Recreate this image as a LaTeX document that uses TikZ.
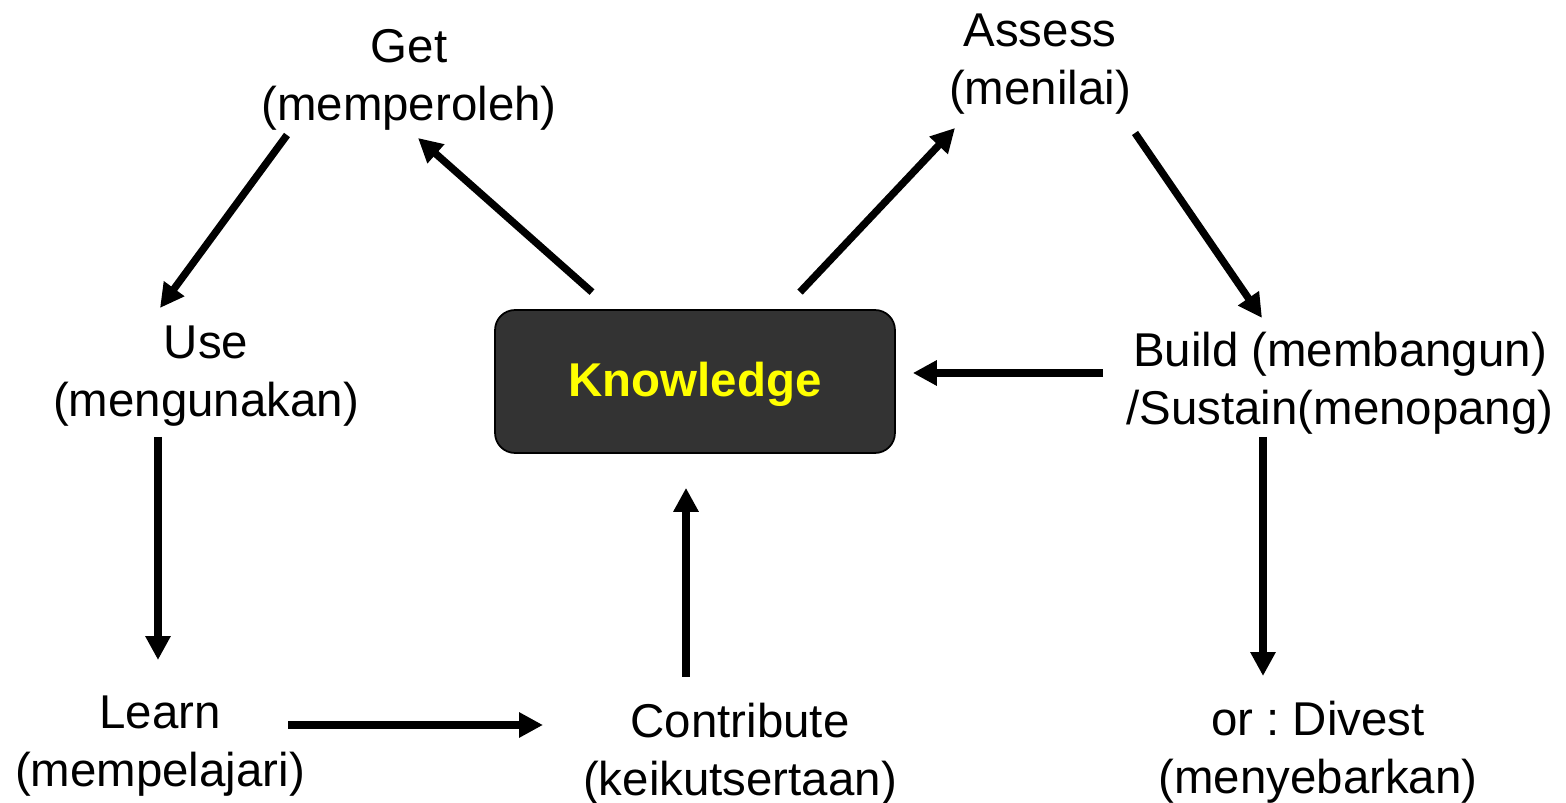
\documentclass[tikz,border=0pt]{standalone}
\usepackage{fontspec}
\setmainfont{Liberation Sans}
\frenchspacing
\usetikzlibrary{arrows.meta}
\definecolor{boxgray}{HTML}{333333}
\definecolor{kyellow}{HTML}{FFFF00}

\begin{document}
\begin{tikzpicture}[x=0.02cm, y=-0.02cm,
  every node/.style={align=center, font=\fontsize{27}{33}\selectfont},
  arr/.style={line width=4.2pt, -{Triangle[length=0.48cm, width=0.48cm]}}]
\useasboundingbox (0,0) rectangle (1566,803);

\node (k)[draw=black, line width=1pt, fill=boxgray, rounded corners=0.4cm,
  minimum width=8cm, minimum height=2.86cm, text depth=0.1cm,
  font=\fontsize{27}{33}\selectfont\bfseries, text=kyellow] at (695,381.5) {Knowledge};
\node (get) at (409,80) {Get\\(memperoleh)};
\node (assess) at (1040,64) {Assess\\(menilai)};
\node (use) at (206,376) {Use\\(mengunakan)};
\node (build) at (1340,383) {Build (membangun)\\/Sustain(menopang)};
\node (learn) at (160,746) {Learn\\(mempelajari)};
\node (contr) at (740,754) {Contribute\\(keikutsertaan)};
\node (divest) at (1318,752) {or : Divest\\(menyebarkan)};

\draw[arr] ([shift={(-103,-17)}]k.north) -- ([shift={(9,58)}]get.center);
\draw[arr] ([shift={(105,-17)}]k.north) -- ([shift={(-85,64)}]assess.center);
\draw[arr] ([shift={(-122,55)}]get.center) -- ([shift={(-46,-68)}]use.center);
\draw[arr] ([shift={(95,69)}]assess.center) -- ([shift={(-78,-65)}]build.center);
\draw[arr] ([shift={(-237,-10)}]build.center) -- ([shift={(17,-8.5)}]k.east);
\draw[arr] ([shift={(-48,61)}]use.center) -- ([shift={(-2,-86)}]learn.center);
\draw[arr] ([shift={(128,-21)}]learn.center) -- ([shift={(-197,-29)}]contr.center);
\draw[arr] ([shift={(-54,-77)}]contr.center) -- ([shift={(-9,34)}]k.south);
\draw[arr] ([shift={(-77,54)}]build.center) -- ([shift={(-55,-76)}]divest.center);
\end{tikzpicture}
\end{document}
